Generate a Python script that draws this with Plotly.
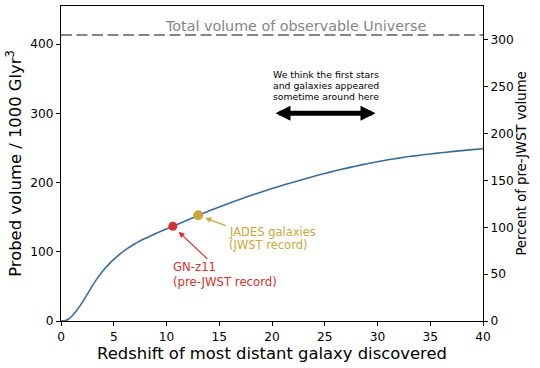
import plotly.graph_objects as go

# Data
redshift = [0, 0.25, 0.5, 0.75, 1, 1.5, 2, 2.5, 3, 3.5, 4, 4.5, 5, 6, 7, 8, 9, 10, 11, 12, 13, 14, 15,
            16, 17, 18, 19, 20, 21, 22, 23, 24, 25, 26, 27, 28, 29, 30, 31, 32, 33, 34, 35, 36, 37,
            38, 39, 40]
volume = [0, 0.2, 1.2, 3.3, 6.5, 15.5, 26.5, 39, 51.5, 63, 73, 81.5, 89, 101.5, 111.5, 119.5, 126.5,
          133, 139.5, 146, 152.5, 158.8, 164.8, 170.5, 176, 181.3, 186.4, 191.3, 196, 200.5, 204.9,
          209.1, 213.1, 216.9, 220.5, 223.9, 227.1, 230.1, 232.8, 235.3, 237.5, 239.5, 241.3, 243,
          244.6, 246.1, 247.5, 248.8]

total_volume = 413
pre_jwst_volume = 135.4          # 100 % on the right axis
gnz11_z, gnz11_v = 10.6, 136.8
jades_z, jades_v = 13.0, 152.8
first_stars_range = [20, 30]
first_stars_y = 300

first_stars_lines = ["We think the first stars", "and galaxies appeared", "sometime around here"]
gnz11_lines = ["GN-z11", "(pre-JWST record)"]
jades_lines = ["JADES galaxies", "(JWST record)"]

y_max = 455
FONT = "DejaVu Sans"
BLUE = "#3b6c99"
RED = "#d5312e"
GOLD = "#c9a83c"
GRAY = "#858585"

fig = go.Figure()
fig.add_trace(go.Scatter(x=redshift, y=volume, mode="lines",
                         line=dict(color=BLUE, width=1.6, shape="spline", smoothing=0.8),
                         hoverinfo="skip", showlegend=False))
fig.add_trace(go.Scatter(x=[gnz11_z], y=[gnz11_v], mode="markers", marker=dict(color=RED, size=9),
                         showlegend=False))
fig.add_trace(go.Scatter(x=[jades_z], y=[jades_v], mode="markers", marker=dict(color=GOLD, size=10),
                         showlegend=False))
# dummy trace so the secondary axis is drawn
fig.add_trace(go.Scatter(x=[0], y=[0], yaxis="y2", mode="lines", line=dict(width=0), hoverinfo="skip",
                         showlegend=False))

# total volume line
fig.add_shape(type="line", xref="paper", x0=0, x1=1, yref="y", y0=total_volume, y1=total_volume,
              line=dict(color=GRAY, width=2, dash="11px,4.5px"))
fig.add_annotation(x=0.556, xref="paper", y=total_volume, yref="y", text="Total volume of observable Universe",
                   showarrow=False, yanchor="bottom", yshift=-1, font=dict(family=FONT, size=14.3, color=GRAY))

# first stars note and double arrow
for i, line in enumerate(first_stars_lines):
    fig.add_annotation(x=25.1, y=first_stars_y, text=line, showarrow=False, yanchor="middle",
                       yshift=38.5 - 10.8 * i, font=dict(family=FONT, size=9.3, color="black"))
fig.add_annotation(x=first_stars_range[1], y=first_stars_y, ax=first_stars_range[0], ay=first_stars_y,
                   axref="x", ayref="y", text="", showarrow=True, arrowhead=2, arrowsize=0.6, arrowwidth=5,
                   arrowside="end+start", arrowcolor="black", standoff=2, startstandoff=2)

# GN-z11 arrow and label
fig.add_annotation(x=gnz11_z, y=gnz11_v, ax=36, ay=34, text="", showarrow=True, arrowhead=2,
                   arrowsize=1, arrowwidth=1.2, arrowcolor=RED, standoff=8)
for i, line in enumerate(gnz11_lines):
    fig.add_annotation(x=gnz11_z, y=gnz11_v, xanchor="left", yanchor="middle", xshift=-2,
                       yshift=-41 - 14.4 * i, text=line, showarrow=False,
                       font=dict(family=FONT, size=11.7, color=RED))
# JADES arrow and label
fig.add_annotation(x=jades_z, y=jades_v, ax=29, ay=11, text="", showarrow=True, arrowhead=2,
                   arrowsize=1, arrowwidth=1.2, arrowcolor=GOLD, standoff=7.5)
for i, line in enumerate(jades_lines):
    fig.add_annotation(x=jades_z, y=jades_v, xanchor="left", yanchor="middle", xshift=29,
                       yshift=-17 - 12.8 * i, text=line, showarrow=False,
                       font=dict(family=FONT, size=11.5, color=GOLD))

fig.update_layout(
    width=540, height=368,
    margin=dict(l=61, r=57, t=6, b=47),
    plot_bgcolor="white", paper_bgcolor="white",
    font=dict(family=FONT, size=12, color="black"),
    xaxis=dict(range=[0, 40], tickvals=[0, 5, 10, 15, 20, 25, 30, 35, 40], showgrid=False, zeroline=False,
               showline=True, linecolor="black", linewidth=1.2, mirror=True, ticks="outside", ticklen=4,
               tickcolor="black", tickfont=dict(size=12.2),
               title=dict(text="Redshift of most distant galaxy discovered", font=dict(size=16.4), standoff=4)),
    yaxis=dict(range=[0, y_max], tickvals=[0, 100, 200, 300, 400], showgrid=False, zeroline=False,
               showline=True, linecolor="black", linewidth=1.2, mirror=True, ticks="outside", ticklen=4,
               tickcolor="black", tickfont=dict(size=12.2),
               title=dict(text="Probed volume / 1000 Glyr<sup>3</sup>", font=dict(size=16.4), standoff=4)),
    yaxis2=dict(range=[0, y_max * 100 / pre_jwst_volume], overlaying="y", side="right",
                tickvals=[0, 50, 100, 150, 200, 250, 300], showgrid=False, zeroline=False,
                showline=True, linecolor="black", linewidth=1.2, ticks="outside", ticklen=4,
                tickcolor="black", tickfont=dict(size=12.2),
                title=dict(text="Percent of pre-JWST volume", font=dict(size=13.2), standoff=3)),
)

fig.write_html("out.html", config={"displayModeBar": False},
               post_script="document.body.style.margin='0';")
